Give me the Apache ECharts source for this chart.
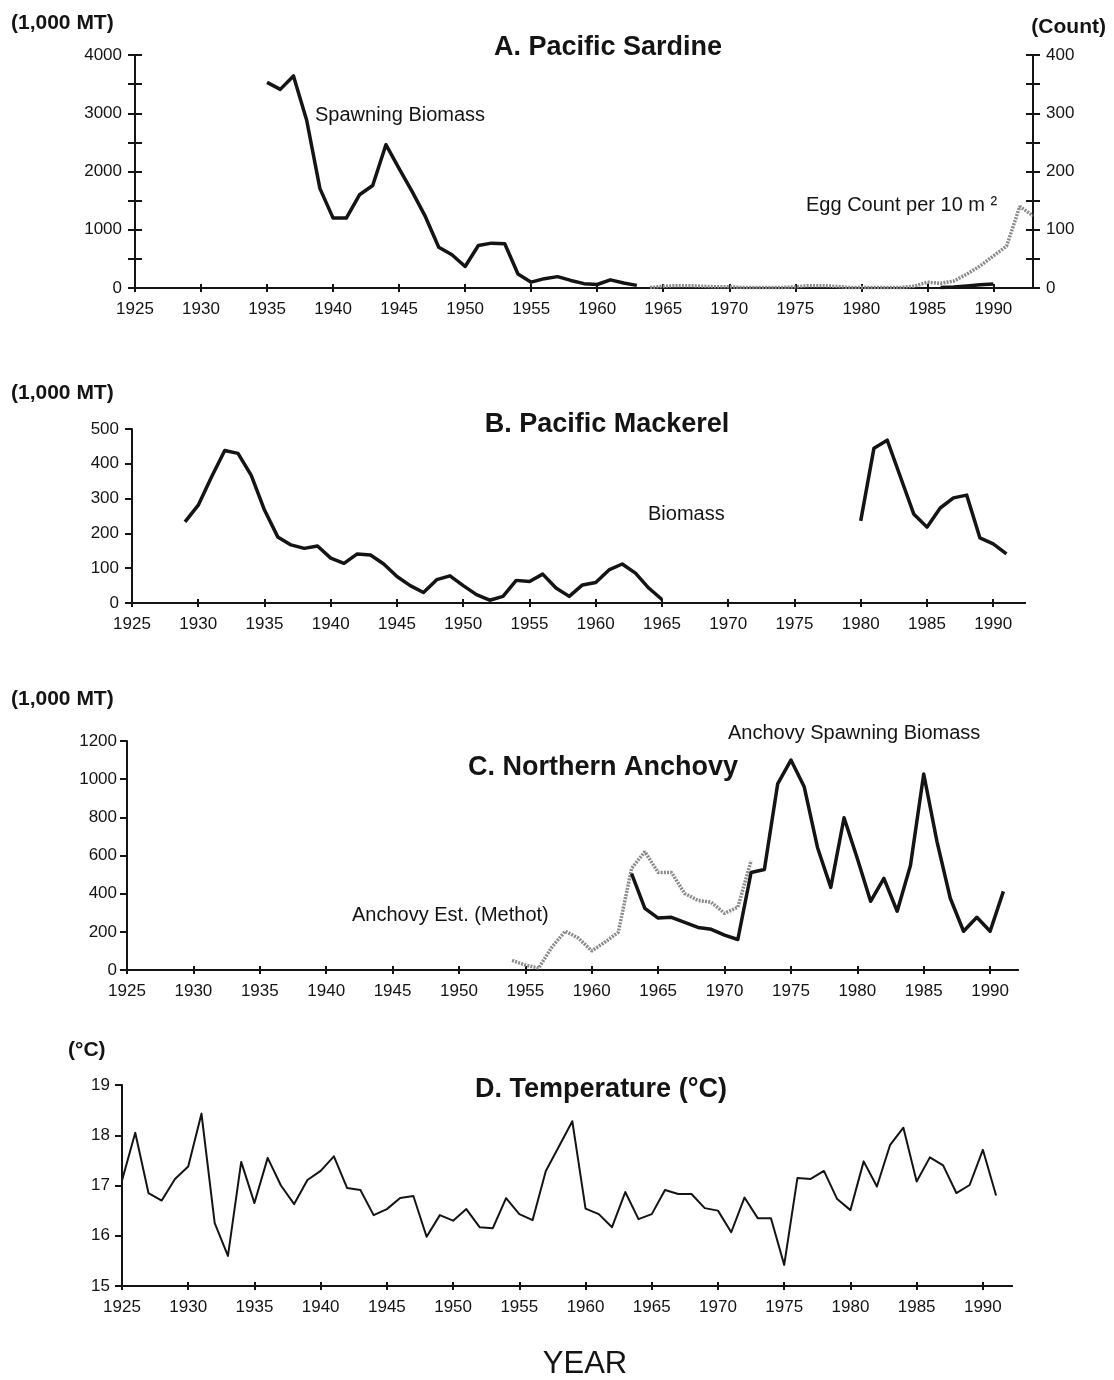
<!DOCTYPE html>
<html>
<head>
<meta charset="utf-8">
<title>Pacific sardine, mackerel, anchovy and temperature</title>
<script src="https://cdn.jsdelivr.net/npm/echarts@6/dist/echarts.min.js"></script>
<style>
  html, body { margin: 0; padding: 0; background: #fff; }
  #chart { width: 1114px; height: 1380px; }
</style>
</head>
<body>
<div id="chart"></div>
<script>
// shared year axis
const yearTicks = [1925, 1930, 1935, 1940, 1945, 1950, 1955, 1960, 1965, 1970, 1975, 1980, 1985, 1990];

// A. Pacific sardine (1,000 MT) and egg count (right axis)
const sardineYears = [1935, 1936, 1937, 1938, 1939, 1940, 1941, 1942, 1943, 1944, 1945, 1946, 1947, 1948, 1949,
  1950, 1951, 1952, 1953, 1954, 1955, 1956, 1957, 1958, 1959, 1960, 1961, 1962, 1963, 1964,
  1986, 1987, 1988, 1989, 1990];
const sardineBiomass = [3530, 3410, 3640, 2880, 1710, 1200, 1200, 1600, 1760, 2460, 2050, 1650, 1220, 700, 570,
  370, 730, 770, 760, 240, 100, 160, 195, 130, 75, 60, 140, 85, 45, null,
  8, 18, 35, 55, 70];
const eggYears = [1964, 1965, 1966, 1967, 1968, 1969, 1970, 1971, 1972, 1973, 1974, 1975, 1976, 1977, 1978,
  1979, 1980, 1981, 1982, 1983, 1984, 1985, 1986, 1987, 1988, 1989, 1990, 1991, 1992, 1993];
const eggCount = [1, 3, 4, 4, 3, 2, 2, 1, 1, 1, 1, 2, 4, 4, 3,
  1, 1, 1, 1, 1, 3, 10, 8, 12, 24, 38, 55, 72, 140, 124];
const sardineLabels = [0, 1000, 2000, 3000, 4000];
const sardineTicks = [0, 500, 1000, 1500, 2000, 2500, 3000, 3500, 4000];
const eggLabels = [0, 100, 200, 300, 400];
const eggTicks = [0, 50, 100, 150, 200, 250, 300, 350, 400];

// B. Pacific mackerel biomass (1,000 MT)
const mackerelYears = [1929, 1930, 1931, 1932, 1933, 1934, 1935, 1936, 1937, 1938, 1939, 1940, 1941, 1942, 1943,
  1944, 1945, 1946, 1947, 1948, 1949, 1950, 1951, 1952, 1953, 1954, 1955, 1956, 1957, 1958, 1959, 1960,
  1961, 1962, 1963, 1964, 1965, 1966,
  1980, 1981, 1982, 1983, 1984, 1985, 1986, 1987, 1988, 1989, 1990, 1991];
const mackerelBiomass = [233, 281, 362, 438, 430, 367, 267, 190, 167, 157, 164, 129, 114, 141, 138,
  112, 76, 50, 30, 67, 78, 50, 24, 8, 19, 65, 62, 83, 43, 19, 52, 59,
  95, 112, 86, 43, 10, null,
  236, 445, 468, 362, 256, 218, 273, 302, 310, 187, 170, 141];
const mackerelTicks = [0, 100, 200, 300, 400, 500];

// C. Northern anchovy (1,000 MT)
const methotYears = [1954, 1955, 1956, 1957, 1958, 1959, 1960, 1961, 1962, 1963, 1964, 1965, 1966, 1967, 1968,
  1969, 1970, 1971, 1972];
const methotEst = [50, 26, 10, 120, 203, 167, 100, 146, 198, 532, 620, 511, 511, 401, 365,
  355, 297, 329, 573];
const anchovyYears = [1963, 1964, 1965, 1966, 1967, 1968, 1969, 1970, 1971, 1972, 1973, 1974, 1975, 1976, 1977,
  1978, 1979, 1980, 1981, 1982, 1983, 1984, 1985, 1986, 1987, 1988, 1989, 1990, 1991];
const anchovyBiomass = [505, 323, 272, 276, 250, 223, 213, 183, 160, 511, 527, 975, 1100, 960, 642,
  433, 798, 584, 360, 480, 308, 548, 1027, 673, 376, 203, 276, 203, 412];
const anchovyTicks = [0, 200, 400, 600, 800, 1000, 1200];

// D. Temperature (°C)
const tempYears = [];
for (let y = 1925; y <= 1991; y++) tempYears.push(y);
const temperature = [17.1, 18.05, 16.85, 16.7, 17.13, 17.38, 18.43, 16.25, 15.6, 17.47,
  16.65, 17.55, 17.0, 16.63, 17.11, 17.29, 17.58, 16.95, 16.91, 16.41,
  16.53, 16.75, 16.79, 15.98, 16.41, 16.3, 16.53, 16.17, 16.15, 16.75,
  16.43, 16.31, 17.29, 17.78, 18.28, 16.54, 16.43, 16.17, 16.87, 16.33,
  16.43, 16.91, 16.83, 16.83, 16.55, 16.5, 16.07, 16.76, 16.35, 16.35,
  15.42, 17.15, 17.13, 17.29, 16.73, 16.51, 17.48, 16.98, 17.81, 18.15,
  17.08, 17.56, 17.4, 16.85, 17.01, 17.71, 16.8];
const tempTicks = [15, 16, 17, 18, 19];

const ink = '#141414';
const font = '"Liberation Sans", Arial, sans-serif';
const pairs = (xs, ys) => xs.map((x, i) => [x, ys[i]]);

// the second copy of each axis only carries the inward half of the ticks
function yearAxis(grid, max, inside) {
  return {
    type: 'value', gridIndex: grid, position: 'bottom', min: 1925, max: max,
    axisLine: { onZero: false, lineStyle: { color: ink, width: 2 } },
    axisTick: { inside: inside, length: 4, customValues: yearTicks, lineStyle: { color: ink, width: 2 } },
    axisLabel: {
      show: !inside, customValues: yearTicks, formatter: v => String(v),
      margin: 13, fontSize: 17, color: ink, fontFamily: font
    },
    splitLine: { show: false }
  };
}

function levelAxis(grid, min, max, labels, ticks, pos, inside, margin) {
  return {
    type: 'value', gridIndex: grid, position: pos, min: min, max: max,
    axisLine: { show: true, onZero: false, lineStyle: { color: ink, width: 2 } },
    axisTick: { show: true, inside: inside, length: 7, customValues: ticks, lineStyle: { color: ink, width: 2 } },
    axisLabel: {
      show: !inside, customValues: labels, formatter: v => String(v),
      margin: margin, fontSize: 17, color: ink, fontFamily: font
    },
    splitLine: { show: false }
  };
}

function txt(s, x, y, align, size, weight) {
  return {
    type: 'text', x: x, y: y,
    style: {
      text: s, fill: ink, textAlign: align, textVerticalAlign: 'middle',
      font: (weight || 'normal') + ' ' + size + 'px ' + font
    }
  };
}

const blackLine = (w) => ({ color: ink, width: w, join: 'round' });
const greyLine = { color: '#8a8a8a', width: 3.5, type: [2, 1.2] };

const chart = echarts.init(document.getElementById('chart'), null, { renderer: 'canvas' });
chart.setOption({
  backgroundColor: '#fff',
  animation: false,
  grid: [
    { left: 135, top: 55, width: 898, height: 233 },
    { left: 132, top: 429, width: 893, height: 174 },
    { left: 127, top: 741, width: 891, height: 229 },
    { left: 122, top: 1085, width: 890, height: 201 }
  ],
  xAxis: [
    yearAxis(0, 1993, false), yearAxis(0, 1993, true),
    yearAxis(1, 1992.4, false), yearAxis(1, 1992.4, true),
    yearAxis(2, 1992.1, false), yearAxis(2, 1992.1, true),
    yearAxis(3, 1992.2, false), yearAxis(3, 1992.2, true)
  ],
  yAxis: [
    levelAxis(0, 0, 4000, sardineLabels, sardineTicks, 'left', false, 13),
    levelAxis(0, 0, 4000, sardineLabels, sardineTicks, 'left', true, 13),
    levelAxis(0, 0, 400, eggLabels, eggTicks, 'right', false, 13),
    levelAxis(0, 0, 400, eggLabels, eggTicks, 'right', true, 13),
    levelAxis(1, 0, 500, mackerelTicks, mackerelTicks, 'left', false, 13),
    levelAxis(2, 0, 1200, anchovyTicks, anchovyTicks, 'left', false, 10),
    levelAxis(3, 15, 19, tempTicks, tempTicks, 'left', false, 12)
  ],
  series: [
    { type: 'line', xAxisIndex: 0, yAxisIndex: 2, data: pairs(eggYears, eggCount),
      showSymbol: false, lineStyle: greyLine, z: 2 },
    { type: 'line', xAxisIndex: 0, yAxisIndex: 0, data: pairs(sardineYears, sardineBiomass),
      showSymbol: false, lineStyle: blackLine(3.5), z: 3 },
    { type: 'line', xAxisIndex: 2, yAxisIndex: 4, data: pairs(mackerelYears, mackerelBiomass),
      showSymbol: false, lineStyle: blackLine(3.5) },
    { type: 'line', xAxisIndex: 4, yAxisIndex: 5, data: pairs(methotYears, methotEst),
      showSymbol: false, lineStyle: greyLine, z: 2 },
    { type: 'line', xAxisIndex: 4, yAxisIndex: 5, data: pairs(anchovyYears, anchovyBiomass),
      showSymbol: false, lineStyle: blackLine(3.5), z: 3 },
    { type: 'line', xAxisIndex: 6, yAxisIndex: 6, data: pairs(tempYears, temperature),
      showSymbol: false, lineStyle: blackLine(2) }
  ],
  graphic: [
    txt('(1,000 MT)', 11, 23, 'left', 21, 'bold'),
    txt('(Count)', 1106, 27, 'right', 21, 'bold'),
    txt('A. Pacific Sardine', 608, 48, 'center', 27, 'bold'),
    txt('Spawning Biomass', 315, 115, 'left', 20),
    txt('Egg Count per 10 m ²', 806, 205, 'left', 20),

    txt('(1,000 MT)', 11, 393, 'left', 21, 'bold'),
    txt('B. Pacific Mackerel', 607, 425, 'center', 27, 'bold'),
    txt('Biomass', 648, 514, 'left', 20),

    txt('(1,000 MT)', 11, 699, 'left', 21, 'bold'),
    txt('Anchovy Spawning Biomass', 728, 733, 'left', 20),
    txt('C. Northern Anchovy', 603, 768, 'center', 27, 'bold'),
    txt('Anchovy Est. (Methot)', 352, 915, 'left', 20),

    txt('(°C)', 68, 1050, 'left', 21, 'bold'),
    txt('D. Temperature (°C)', 601, 1090, 'center', 27, 'bold'),
    txt('YEAR', 585, 1364, 'center', 31)
  ]
});
</script>
</body>
</html>
